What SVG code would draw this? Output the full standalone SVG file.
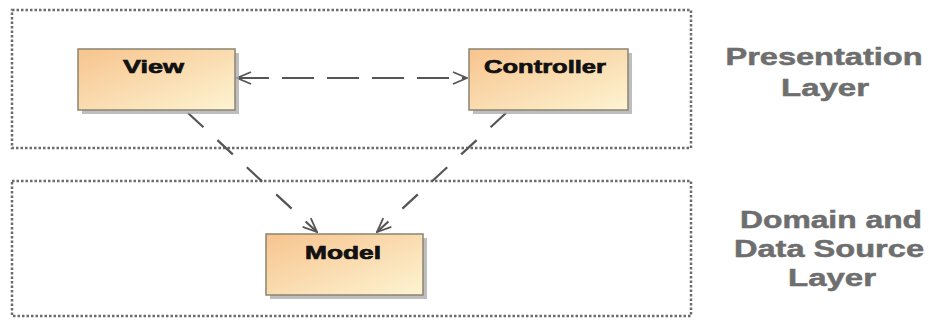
<svg xmlns="http://www.w3.org/2000/svg" width="929" height="320" viewBox="0 0 929 320">
<defs>
<style>
.layer{fill:none;stroke:#6c6c6c;stroke-width:2.5;stroke-dasharray:2.5 2}
.box{fill:url(#g);stroke:#8a8470;stroke-width:1.5}
.shadow{fill:#a8a8a8;opacity:0.75}
.lbl{font-family:"Liberation Sans",Arial,sans-serif;font-weight:bold;font-size:19px;fill:#111;stroke:#111;stroke-width:0.7}
.side{font-family:"Liberation Sans",Arial,sans-serif;font-weight:bold;font-size:24px;fill:#6e6e6e;stroke:#6e6e6e;stroke-width:0.5;text-anchor:middle}
.con{fill:none;stroke:#555555;stroke-width:2.2}
.h{stroke-dasharray:32 13}
.d{stroke-dasharray:21 19}
</style>
<linearGradient id="g" x1="0" y1="0" x2="1" y2="1">
<stop offset="0" stop-color="#f7c48e"/>
<stop offset="1" stop-color="#fdf4d2"/>
</linearGradient>
<marker id="a" viewBox="0 0 16 16" refX="15" refY="8" markerWidth="16" markerHeight="16" markerUnits="userSpaceOnUse" orient="auto-start-reverse">
<path d="M1 2 L15 8 L1 14" fill="none" stroke="#555555" stroke-width="1.8"/>
</marker>
</defs>
<rect width="929" height="320" fill="#ffffff"/>
<g id="presentation-layer">
<rect class="layer" x="12" y="10" width="679" height="138"/>
</g>
<g id="domain-layer">
<rect class="layer" x="12" y="181" width="679" height="135"/>
</g>
<g id="connectors">
<line class="con h" x1="237" y1="78" x2="467" y2="78" marker-start="url(#a)" marker-end="url(#a)"/>
<line class="con d" x1="188" y1="113" x2="317" y2="232" marker-end="url(#a)"/>
<line class="con d" x1="506" y1="113" x2="377" y2="232" marker-end="url(#a)"/>
</g>
<g id="view">
<rect class="shadow" x="82" y="53" width="157" height="61"/>
<rect class="box" x="78" y="49" width="157" height="61"/>
<text class="lbl" x="123" y="73" textLength="61" lengthAdjust="spacingAndGlyphs">View</text>
</g>
<g id="controller">
<rect class="shadow" x="473" y="53" width="159" height="61"/>
<rect class="box" x="469" y="49" width="159" height="61"/>
<text class="lbl" x="484" y="73" textLength="122" lengthAdjust="spacingAndGlyphs">Controller</text>
</g>
<g id="model">
<rect class="shadow" x="270" y="238" width="157" height="61"/>
<rect class="box" x="266" y="234" width="157" height="61"/>
<text class="lbl" x="305" y="259" textLength="76" lengthAdjust="spacingAndGlyphs">Model</text>
</g>
<g id="labels">
<text class="side" x="824" y="65" textLength="197" lengthAdjust="spacingAndGlyphs">Presentation</text>
<text class="side" x="825" y="96" textLength="88" lengthAdjust="spacingAndGlyphs">Layer</text>
<text class="side" x="831" y="228" textLength="182" lengthAdjust="spacingAndGlyphs">Domain and</text>
<text class="side" x="829" y="257" textLength="190" lengthAdjust="spacingAndGlyphs">Data Source</text>
<text class="side" x="832" y="286" textLength="88" lengthAdjust="spacingAndGlyphs">Layer</text>
</g>
</svg>
